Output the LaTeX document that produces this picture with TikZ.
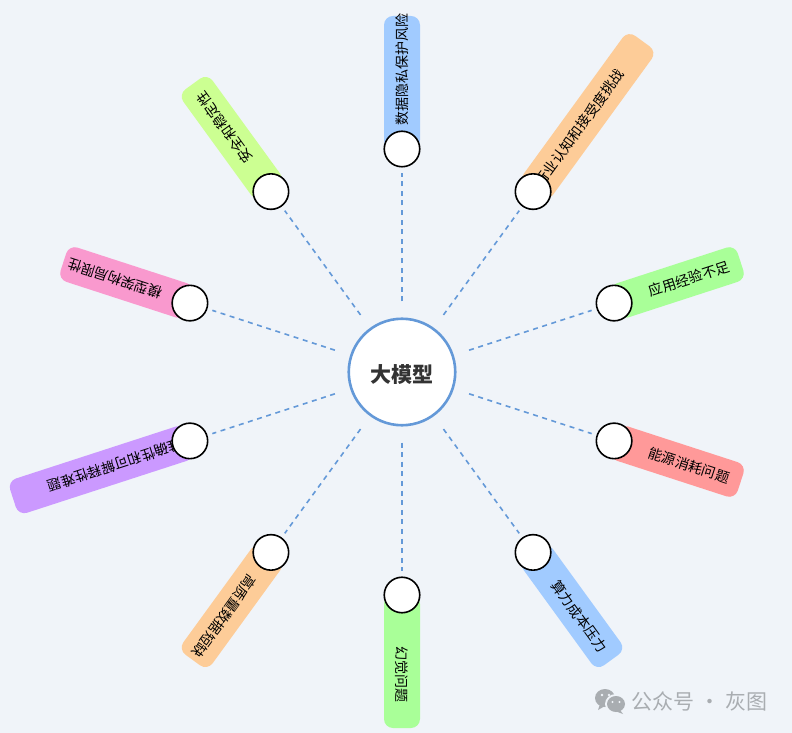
\documentclass[tikz,border=0pt]{standalone}
\usepackage{fontspec}
\setmainfont{Noto Sans CJK SC}
\usetikzlibrary{positioning}
\definecolor{pagebg}{HTML}{F0F4F9}
\definecolor{linkblue}{HTML}{6499D8}
\definecolor{barblue}{HTML}{A1CBFF}
\definecolor{barorange}{HTML}{FDCC98}
\definecolor{bargreen}{HTML}{A9FF98}
\definecolor{barred}{HTML}{FF9999}
\definecolor{barpurple}{HTML}{CB99FF}
\definecolor{barpink}{HTML}{F999CE}
\definecolor{barlime}{HTML}{CCFF92}
\definecolor{markgray}{HTML}{A9ADB1}

\begin{document}
\begin{tikzpicture}[
    every node/.style={font=\fontsize{14pt}{16pt}\selectfont, align=center},
    hub/.style={
        circle,
        draw=linkblue,
        line width=2.6pt,
        fill=white,
        minimum size=106.5pt,
        inner sep=0pt,
        font=\fontsize{21pt}{24pt}\selectfont\bfseries,
        text=black!80,
        text height=21pt,
        text depth=0pt
    },
    dot/.style={
        circle,
        draw=black,
        line width=1.6pt,
        fill=white,
        minimum size=35.5pt,
        inner sep=0pt
    },
    bar/.style={
        inner sep=0pt,
        rounded corners=9pt,
        minimum height=36pt
    },
    shortbar/.style={bar, minimum width=133pt},
    longbar/.style={bar, minimum width=186pt},
    lbl/.style={inner sep=0pt, text=black},
    link/.style={
        draw=linkblue,
        line width=1.6pt,
        dash pattern=on 5pt off 4.6pt,
        shorten <=16pt,
        shorten >=5pt
    }
]

% page
\fill[pagebg] (-402pt,-361pt) rectangle (390pt,372pt);
\useasboundingbox (-402pt,-361pt) rectangle (390pt,372pt);

% bars
\node[shortbar, fill=barblue, rotate=90] (bar1) at (90:289.5pt) {};
\node[longbar, fill=barorange, rotate=54] (bar2) at (54:316pt) {};
\node[shortbar, fill=bargreen, rotate=18] (bar3) at (18:289.5pt) {};
\node[shortbar, fill=barred, rotate=-18] (bar4) at (-18:289.5pt) {};
\node[shortbar, fill=barblue, rotate=-54] (bar5) at (-54:289.5pt) {};
\node[shortbar, fill=bargreen, rotate=-90] (bar6) at (-90:289.5pt) {};
\node[shortbar, fill=barorange, rotate=-126] (bar7) at (-126:289.5pt) {};
\node[longbar, fill=barpurple, rotate=-162] (bar8) at (-162:316pt) {};
\node[shortbar, fill=barpink, rotate=162] (bar9) at (162:289.5pt) {};
\node[shortbar, fill=barlime, rotate=126] (bar10) at (126:289.5pt) {};

% labels
\node[lbl, rotate=90] (lbl1) at (90:302pt) {数据隐私保护风险};
\node[lbl, rotate=54] (lbl2) at (54:302pt) {行业认知和接受度挑战};
\node[lbl, rotate=18] (lbl3) at (18:302pt) {应用经验不足};
\node[lbl, rotate=-18] (lbl4) at (-18:302pt) {能源消耗问题};
\node[lbl, rotate=-54] (lbl5) at (-54:302pt) {算力成本压力};
\node[lbl, rotate=-90] (lbl6) at (-90:302pt) {幻觉问题};
\node[lbl, rotate=-126] (lbl7) at (-126:302pt) {高质量数据短缺};
\node[lbl, rotate=-162] (lbl8) at (-162:302pt) {准确性和可解释性难题};
\node[lbl, rotate=162] (lbl9) at (162:302pt) {模型架构局限性};
\node[lbl, rotate=126] (lbl10) at (126:302pt) {安全和稳定性};

% circles
\node[hub] (core) at (0,0) {大模型};
\node[dot] (dot1) at (90:223pt) {};
\node[dot] (dot2) at (54:223pt) {};
\node[dot] (dot3) at (18:223pt) {};
\node[dot] (dot4) at (-18:223pt) {};
\node[dot] (dot5) at (-54:223pt) {};
\node[dot] (dot6) at (-90:223pt) {};
\node[dot] (dot7) at (-126:223pt) {};
\node[dot] (dot8) at (-162:223pt) {};
\node[dot] (dot9) at (162:223pt) {};
\node[dot] (dot10) at (126:223pt) {};

% links
\draw[link] (core) -- (dot1);
\draw[link] (core) -- (dot2);
\draw[link] (core) -- (dot3);
\draw[link] (core) -- (dot4);
\draw[link] (core) -- (dot5);
\draw[link] (core) -- (dot6);
\draw[link] (core) -- (dot7);
\draw[link] (core) -- (dot8);
\draw[link] (core) -- (dot9);
\draw[link] (core) -- (dot10);

% watermark
\fill[markgray] (203pt,-326pt) ellipse (10pt and 9pt);
\fill[markgray] (198pt,-332pt) -- (196pt,-338pt) -- (203pt,-334pt) -- cycle;
\fill[pagebg] (200pt,-323pt) circle (1.3pt);
\fill[pagebg] (207pt,-323pt) circle (1.3pt);
\fill[pagebg] (214pt,-332pt) ellipse (11pt and 10pt);
\fill[markgray] (214pt,-332pt) ellipse (9pt and 8pt);
\fill[markgray] (218pt,-338pt) -- (221pt,-342pt) -- (213pt,-339pt) -- cycle;
\fill[pagebg] (210.5pt,-330pt) circle (1.1pt);
\fill[pagebg] (217.5pt,-330pt) circle (1.1pt);
\node[text=markgray, font=\fontsize{21pt}{24pt}\selectfont, inner sep=0pt] (mark) at (297.5pt,-329pt) {公众号 · 灰图};

\end{tikzpicture}
\end{document}
